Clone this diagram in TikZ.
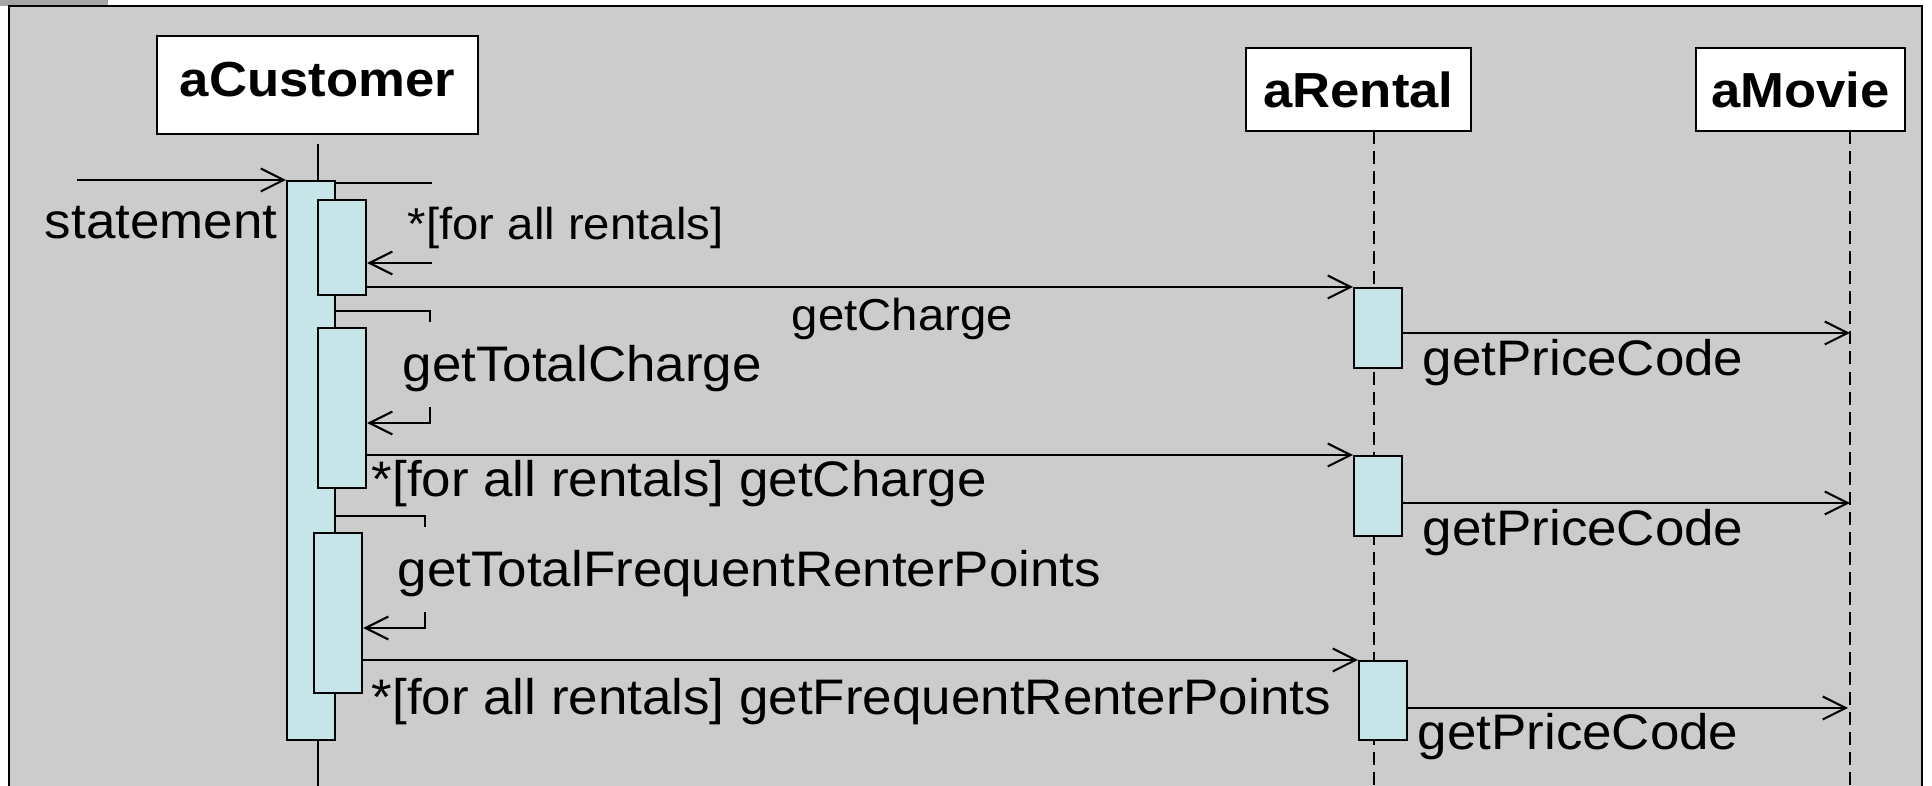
\documentclass[tikz,border=0pt]{standalone}
\usepackage{fontspec}
\setmainfont{Liberation Sans}
\usepackage{graphicx}
\usetikzlibrary{arrows.meta}
\definecolor{slidegray}{RGB}{204,204,204}
\definecolor{tabgray}{RGB}{166,166,166}
\definecolor{actblue}{RGB}{198,229,233}
\newcommand{\wide}[1]{\scalebox{1.07}[1]{#1}}
\tikzset{
  obj/.style={draw, fill=white, line width=0.7pt, inner sep=0, font=\fontsize{14}{17}\selectfont\bfseries},
  act/.style={draw, fill=actblue, line width=0.6pt, inner sep=0, minimum width=0.48cm, anchor=north west},
  life/.style={line width=0.6pt, dash pattern=on 3.7pt off 2pt},
  msgline/.style={line width=0.6pt},
  call/.style={msgline, -{Straight Barb[length=6.5pt,width=6.5pt]}},
  msg/.style={inner sep=0, font=\fontsize{14.2}{17}\selectfont, xscale=1.06},
  msgsmall/.style={inner sep=0, font=\fontsize{12.7}{15}\selectfont, xscale=1.06}
}
\begin{document}
\begin{tikzpicture}[x=0.01cm, y=-0.01cm]
\useasboundingbox (0,0) rectangle (1932,786);
% slide frame
\fill[white] (0,0) rectangle (1932,786);
\fill[tabgray] (0,0) rectangle (108,6);
\fill[slidegray] (9,6) rectangle (1922,786);
\draw[line width=0.6pt] (9,786) -- (9,6) -- (1922,6) -- (1922,786);

% objects
\node[obj, minimum width=3.21cm, minimum height=0.98cm, text depth=0.12cm] (cust) at (317.5,85) {\wide{aCustomer}};
\node[obj, minimum width=2.25cm, minimum height=0.83cm] (rent) at (1358.5,89.5) {\wide{aRental}};
\node[obj, minimum width=2.09cm, minimum height=0.83cm] (movie) at (1800.5,89.5) {\wide{aMovie}};

% lifelines
\coordinate (cTop) at (318,144);
\coordinate (cEnd) at (318,786);
\coordinate (rTop) at (1374,131);
\coordinate (rEnd) at (1374,786);
\coordinate (mTop) at (1850,131);
\coordinate (mEnd) at (1850,786);
\draw[life] (rTop) -- (rEnd);
\draw[life] (mTop) -- (mEnd);

% activations
\node[act, minimum height=5.59cm] (main) at (286,180) {};
\node[act, minimum height=0.95cm] (n1) at (317,199) {};
\node[act, minimum height=1.60cm] (n2) at (317,327) {};
\node[act, minimum height=1.60cm] (n3) at (313,532) {};
\node[act, minimum height=0.80cm] (r1) at (1353,287) {};
\node[act, minimum height=0.80cm] (r2) at (1353,455) {};
\node[act, minimum height=0.79cm] (r3) at (1358,660) {};
\draw[msgline] (cTop) -- (cTop |- main.north);
\draw[msgline] (cTop |- main.south) -- (cEnd);

% statement
\coordinate (in) at (77,180);
\draw[call] (in) -- (main.north west);
\node[msg, anchor=base east] (lStatement) at (278,239) {statement};

% loop over rentals
\coordinate (s1a) at (432,183);
\coordinate (s1b) at (432,263);
\draw[msgline] (main.east |- s1a) -- (s1a);
\draw[call] (s1b) -- (n1.east |- s1b);
\node[msgsmall, anchor=base west] (lLoop) at (407,240) {*[for all rentals]};
\draw[call] (n1.east |- r1.north) -- (r1.north west);
\node[msgsmall, anchor=base west] (lCharge1) at (791,331) {getCharge};
\coordinate (p1) at (1850,333);
\draw[call] (r1.east |- p1) -- (p1);
\node[msg, anchor=base west] (lPrice1) at (1422,376) {getPriceCode};

% total charge
\coordinate (s2a) at (430,311);
\coordinate (s2b) at (430,423);
\draw[msgline] (main.east |- s2a) -- (s2a) -- ++(0,11);
\draw[call] (s2b) ++(0,-16) -- (s2b) -- (n2.east |- s2b);
\node[msg, anchor=base west] (lTotal) at (402,382) {getTotalCharge};
\draw[call] (n2.east |- r2.north) -- (r2.north west);
\node[msg, anchor=base west] (lCharge2) at (371,497) {*[for all rentals] getCharge};
\coordinate (p2) at (1850,503);
\draw[call] (r2.east |- p2) -- (p2);
\node[msg, anchor=base west] (lPrice2) at (1422,546) {getPriceCode};

% frequent renter points
\coordinate (s3a) at (425,516);
\coordinate (s3b) at (425,628);
\draw[msgline] (main.east |- s3a) -- (s3a) -- ++(0,11);
\draw[call] (s3b) ++(0,-16) -- (s3b) -- (n3.east |- s3b);
\node[msg, anchor=base west] (lPoints) at (397,587) {getTotalFrequentRenterPoints};
\draw[call] (n3.east |- r3.north) -- (r3.north west);
\node[msg, anchor=base west] (lPoints2) at (371,715) {*[for all rentals] getFrequentRenterPoints};
\coordinate (p3) at (1848,708);
\draw[call] (r3.east |- p3) -- (p3);
\node[msg, anchor=base west] (lPrice3) at (1417,750) {getPriceCode};
\end{tikzpicture}
\end{document}
